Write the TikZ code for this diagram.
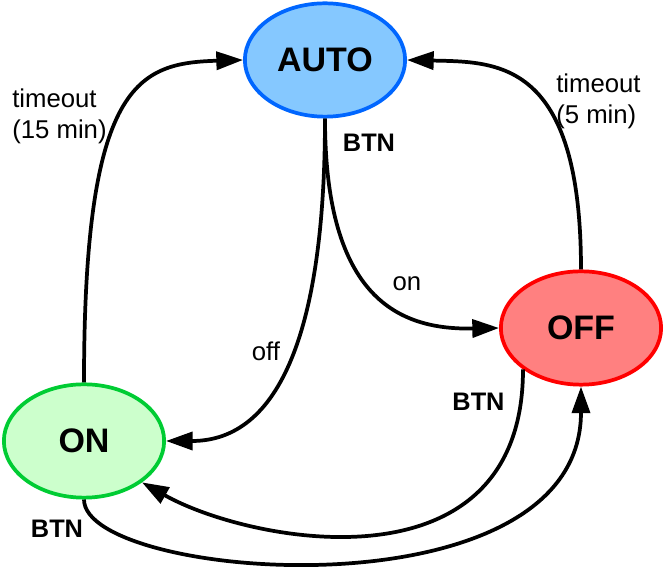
\documentclass[tikz,border=0pt]{standalone}
\usepackage{fontspec}
\setmainfont{Liberation Sans}
\usetikzlibrary{arrows.meta,shapes.geometric}
\definecolor{autofill}{RGB}{133,200,255}
\definecolor{autoline}{RGB}{0,102,255}
\definecolor{onfill}{RGB}{204,255,204}
\definecolor{online}{RGB}{0,204,51}
\definecolor{offfill}{RGB}{255,128,128}
\definecolor{offline}{RGB}{255,0,0}
\begin{document}
\begin{tikzpicture}[
x=0.75pt, y=0.75pt,
state/.style={ellipse, line width=2.8pt, minimum width=120.2pt, minimum height=85pt, inner sep=0pt, font=\fontsize{25.5}{30}\selectfont\bfseries},
trans/.style={line width=2.8pt, -{Triangle[length=20pt,width=13.5pt]}},
lbl/.style={font=\fontsize{19.3}{23}\selectfont, inner sep=0pt},
btn/.style={font=\fontsize{19}{23}\selectfont\bfseries, inner sep=0pt, anchor=base}]
\useasboundingbox (0,0) rectangle (665,567);
\node[state, draw=autoline, fill=autofill] (auto) at (325,507) {AUTO};
\node[state, draw=online, fill=onfill] (on) at (84,126) {ON};
\node[state, draw=offline, fill=offfill] (off) at (581,239) {OFF};

\node[lbl, anchor=north west, align=left] (tout15) at (12,478.5) {timeout\\(15 min)};
\node[lbl, anchor=north west, align=left] (tout5) at (556,493) {timeout\\(5 min)};
\node[btn] (btnauto) at (369,415) {BTN};
\node[lbl, anchor=base] (lblon) at (407,276) {on};
\node[lbl, anchor=base] (lbloff) at (266,206) {off};
\node[btn] (btnoff) at (478.5,156) {BTN};
\node[btn] (btnon) at (57,29.3) {BTN};

\draw[trans] (on.north) .. controls +(0,300) and +(-105,-3) .. (auto.west);
\draw[trans] (off.north) .. controls +(0,210) and +(90,-2) .. (auto.east);
\draw[trans] (auto.south) .. controls +(0,-211) and +(114,0) .. (on.east);
\draw[trans] (auto.south) .. controls +(0,-181) and +(-99,-2) .. (off.west);
\draw[trans] (off.south west) .. controls +(0,-226) and +(108,-61) .. (on.south east);
\draw[trans] (on.south) .. controls +(0,-81) and +(0,-234) .. (off.south);
\end{tikzpicture}
\end{document}
